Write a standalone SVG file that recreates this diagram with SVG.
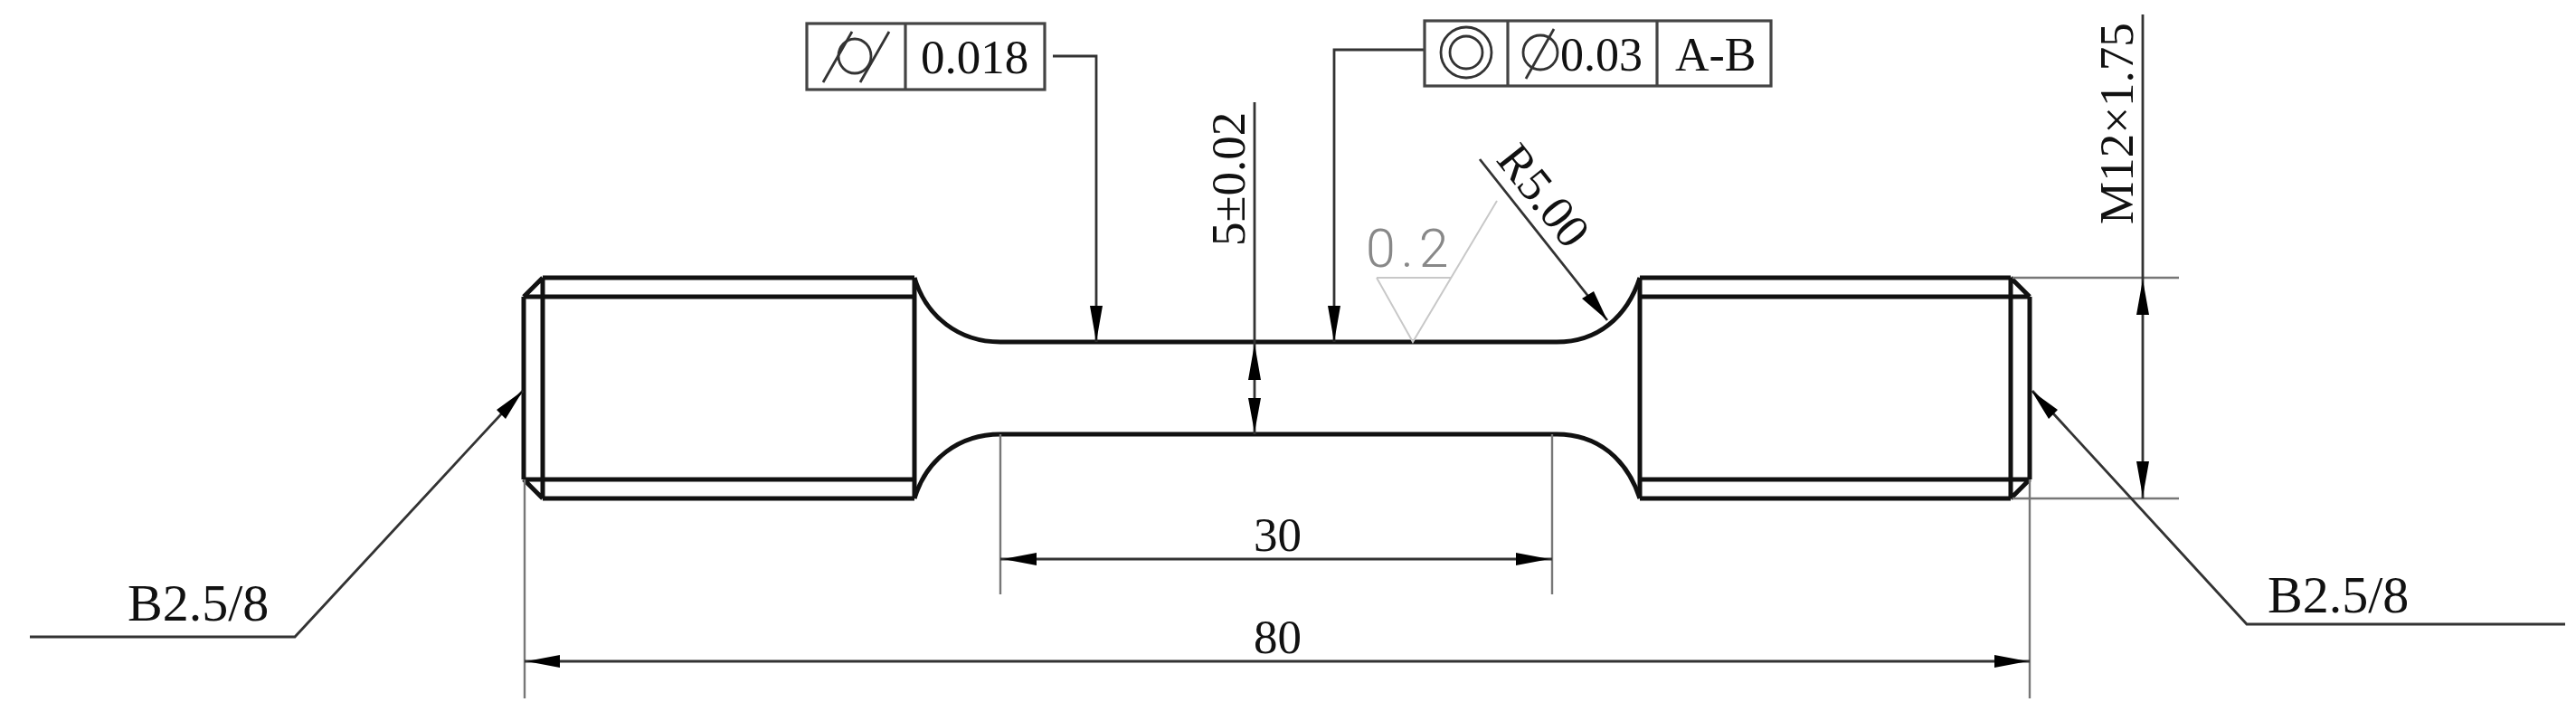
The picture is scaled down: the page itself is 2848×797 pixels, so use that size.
<svg xmlns="http://www.w3.org/2000/svg" width="2848" height="797" viewBox="0 0 2848 797">
<style>
.o{fill:none;stroke:#111;stroke-width:5;stroke-linejoin:miter}
.t{fill:none;stroke:#333;stroke-width:2.8}
.e{fill:none;stroke:#777;stroke-width:2.4}
.b{fill:none;stroke:#444;stroke-width:3.2}
.a{fill:#000;stroke:none}
text{font-family:"Liberation Serif","Times New Roman",serif;font-size:53px;fill:#111}
.s{font-family:Roboto,"Liberation Sans",sans-serif;font-weight:300;font-size:59px;fill:#888;letter-spacing:6px}
.g{fill:none;stroke:#c8c8c8;stroke-width:2}
</style>
<rect width="2848" height="797" fill="#fff"/>
<g id="part">
<path class="o" d="M600 307H1011M600 551H1011M579 328H1011M579 530H1011M579 328V530M600 307V551M1011 307V551M579 328L600 307M579 530L600 551"/>
<path class="o" d="M1813 307H2223M1813 551H2223M1813 328H2244M1813 530H2244M2244 328V530M2223 307V551M1813 307V551M2244 328L2223 307M2244 530L2223 551"/>
<path class="o" d="M1011 307C1024 350 1060 378 1106 378H1721C1767 378 1799 350 1813 307"/>
<path class="o" d="M1011 551C1024 508 1060 480 1106 480H1721C1767 480 1799 508 1813 551"/>
</g>
<g id="connectors">
<path class="e" d="M580 530V772M2244 530V772M1106 480V657M1716 480V657M2225 307H2409M2225 551H2409"/>
<path class="t" d="M1387 113V480M2369 16V551M1106 618H1716M580 731H2244M1164 62H1212V378M1575 55H1475V378M33 704H326L578 432M2247 432L2484 690H2836M1636 176L1777 354"/>
<path class="a" d="M1212 378l-7-40h14zM1475 378l-7-40h14zM1387 380l-7 40h14zM1387 478l-7-38h14zM2369 309l-7 39h14zM2369 549l-7-39h14zM1109 618l37-7v14zM1713 618l-37-7v14zM582 731l37-7v14zM2242 731l-37-7v14zM578 432l-19 31-10-10zM2246 432l29 21-10 10zM1777 354l-28-24 13-8z"/>
</g>
<g id="surface-finish">
<path class="g" d="M1522 307H1604M1522 307L1562 378L1655 222"/>
<text class="s" x="1510" y="295">0.2</text>
</g>
<g id="fcf-cylindricity">
<rect class="b" x="892" y="26" width="263" height="73"/>
<path class="b" d="M1001 26V99"/>
<path class="t" d="M910 91L942 35M951 91L983 35"/>
<ellipse class="t" cx="945" cy="62" rx="18" ry="19"/>
<text x="1018" y="81">0.018</text>
</g>
<g id="fcf-concentricity">
<rect class="b" x="1575" y="23" width="383" height="72"/>
<path class="b" d="M1667 23V95M1832 23V95"/>
<circle class="t" cx="1621" cy="58" r="28"/>
<circle class="t" cx="1621" cy="58" r="18"/>
<circle class="t" cx="1703" cy="58" r="19"/>
<path class="t" d="M1687 87L1718 32"/>
<text x="1725" y="78" style="font-size:52px">0.03</text>
<text x="1852" y="78" style="font-size:52px">A-B</text>
</g>
<g id="labels">
<text transform="translate(1376 272) rotate(-90)">5±0.02</text>
<text transform="translate(2358 248) rotate(-90)">M12×1.75</text>
<text transform="translate(1653 177) rotate(51.6)">R5.00</text>
<text x="1386" y="609">30</text>
<text x="1386" y="722">80</text>
<text x="141" y="686" style="font-size:58px">B2.5/8</text>
<text x="2507" y="677" style="font-size:58px">B2.5/8</text>
</g>
</svg>
